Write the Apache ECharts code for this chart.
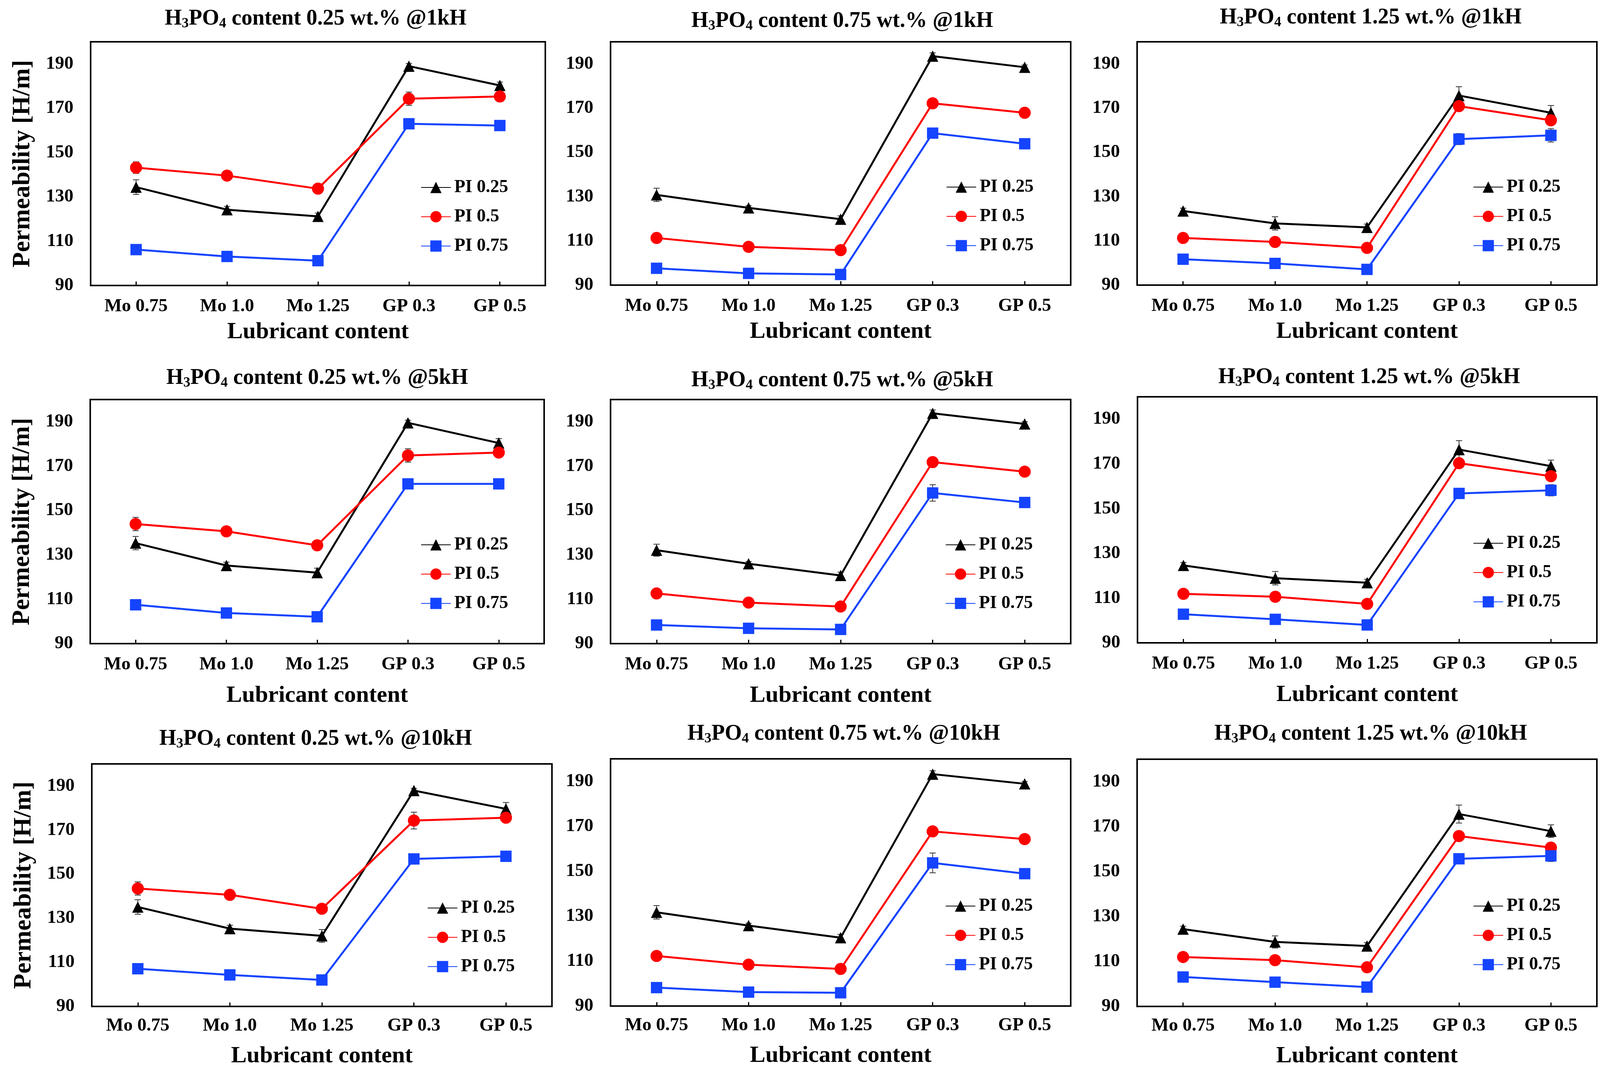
<!DOCTYPE html>
<html>
<head>
<meta charset="utf-8">
<script src="https://cdn.jsdelivr.net/npm/echarts@6/dist/echarts.min.js"></script>
<style>
html,body{margin:0;padding:0;background:#ffffff;}
#chart{width:4111px;height:2750px;}
</style>
</head>
<body>
<div id="chart"></div>
<script>
// ---------------- data ----------------
const categories = ['Mo 0.75', 'Mo 1.0', 'Mo 1.25', 'GP 0.3', 'GP 0.5'];
const seriesNames = ['PI 0.25', 'PI 0.5', 'PI 0.75'];
const acidContents = ['0.25', '0.75', '1.25'];
const frequencies = ['1kH', '5kH', '10kH'];
const yTickMin = 90, yTickMax = 200, yTickStep = 20;

// H3PO4 0.25 wt.% @1kH
const v025_1k_PI025 = [134.4, 124.2, 121.2, 189.0, 180.3];
const v025_1k_PI05  = [143.2, 139.6, 133.7, 174.3, 175.3];
const v025_1k_PI075 = [106.2, 103.1, 101.2, 163.0, 162.2];
const e025_1k_PI025 = [3.3, 1.5, 1.5, 1.2, 1.5];
const e025_1k_PI05  = [2.6, 1.0, 1.0, 3.0, 1.0];
const e025_1k_PI075 = [1.0, 1.0, 1.0, 1.0, 1.0];
// H3PO4 0.75 wt.% @1kH
const v075_1k_PI025 = [130.8, 124.9, 119.8, 193.5, 188.5];
const v075_1k_PI05  = [111.3, 107.3, 105.8, 172.2, 167.9];
const v075_1k_PI075 = [97.6, 95.3, 94.8, 158.7, 153.9];
const e075_1k_PI025 = [3.0, 1.0, 1.5, 1.5, 1.0];
const e075_1k_PI05  = [1.0, 1.0, 1.0, 1.0, 1.0];
const e075_1k_PI075 = [1.0, 1.0, 1.0, 2.0, 1.0];
// H3PO4 1.25 wt.% @1kH
const v125_1k_PI025 = [123.5, 117.9, 116.1, 175.7, 167.9];
const v125_1k_PI05  = [111.3, 109.5, 106.8, 170.9, 164.5];
const v125_1k_PI075 = [101.7, 99.8, 97.1, 156.0, 157.7];
const e125_1k_PI025 = [1.3, 3.0, 1.5, 4.0, 3.3];
const e125_1k_PI05  = [1.0, 1.0, 1.0, 1.0, 1.0];
const e125_1k_PI075 = [1.0, 1.0, 1.0, 2.5, 3.0];
// H3PO4 0.25 wt.% @5kH
const v025_5k_PI025 = [135.3, 125.2, 122.0, 189.5, 180.4];
const v025_5k_PI05  = [143.9, 140.6, 134.3, 174.8, 176.1];
const v025_5k_PI075 = [107.5, 103.8, 102.1, 162.0, 162.0];
const e025_5k_PI025 = [3.0, 1.5, 2.0, 1.2, 2.0];
const e025_5k_PI05  = [3.0, 1.0, 1.0, 3.0, 1.0];
const e025_5k_PI075 = [1.0, 1.0, 1.0, 1.0, 1.0];
// H3PO4 0.75 wt.% @5kH
const v075_5k_PI025 = [132.1, 126.0, 120.7, 193.8, 189.0];
const v075_5k_PI05  = [112.6, 108.5, 106.7, 171.8, 167.5];
const v075_5k_PI075 = [98.4, 96.9, 96.4, 157.9, 153.6];
const e075_5k_PI025 = [2.7, 1.0, 1.5, 1.5, 1.0];
const e075_5k_PI05  = [1.0, 1.0, 1.0, 1.0, 1.0];
const e075_5k_PI075 = [1.0, 1.0, 1.0, 3.7, 1.0];
// H3PO4 1.25 wt.% @5kH
const v125_5k_PI025 = [124.6, 118.9, 116.9, 176.4, 169.0];
const v125_5k_PI05  = [111.9, 110.6, 107.4, 170.3, 164.5];
const v125_5k_PI075 = [102.8, 100.5, 98.0, 156.8, 158.2];
const e125_5k_PI025 = [1.3, 3.0, 1.5, 4.0, 2.7];
const e125_5k_PI05  = [1.0, 1.0, 1.0, 1.0, 2.0];
const e125_5k_PI075 = [1.0, 1.0, 1.0, 1.0, 2.5];
// H3PO4 0.25 wt.% @10kH
const v025_10k_PI025 = [135.1, 125.3, 122.0, 187.9, 179.6];
const v025_10k_PI05  = [143.5, 140.6, 134.3, 174.3, 175.6];
const v025_10k_PI075 = [107.1, 104.3, 102.0, 156.9, 158.1];
const e025_10k_PI025 = [3.3, 1.5, 2.9, 1.0, 2.9];
const e025_10k_PI05  = [3.0, 1.0, 1.0, 3.8, 1.0];
const e025_10k_PI075 = [1.0, 1.0, 1.0, 1.0, 1.0];
// H3PO4 0.75 wt.% @10kH
const v075_10k_PI025 = [131.7, 125.8, 120.4, 193.2, 188.9];
const v075_10k_PI05  = [112.3, 108.4, 106.5, 167.7, 164.3];
const v075_10k_PI075 = [98.2, 96.2, 95.9, 153.7, 148.9];
const e075_10k_PI025 = [3.0, 1.0, 1.5, 1.5, 1.0];
const e075_10k_PI05  = [1.0, 1.0, 1.0, 1.0, 1.0];
const e075_10k_PI075 = [1.0, 1.0, 1.0, 4.4, 1.0];
// H3PO4 1.25 wt.% @10kH
const v125_10k_PI025 = [124.4, 118.7, 116.9, 175.6, 168.0];
const v125_10k_PI05  = [112.0, 110.6, 107.4, 165.8, 160.7];
const v125_10k_PI075 = [103.1, 100.8, 98.6, 155.7, 157.0];
const e125_10k_PI025 = [1.3, 2.7, 1.5, 4.0, 2.8];
const e125_10k_PI05  = [1.0, 1.0, 1.0, 1.0, 1.0];
const e125_10k_PI075 = [1.0, 1.0, 1.0, 2.0, 2.5];

// panels in reading order (rows: frequency, columns: acid content)
const panelValues = [
  [v025_1k_PI025, v025_1k_PI05, v025_1k_PI075],
  [v075_1k_PI025, v075_1k_PI05, v075_1k_PI075],
  [v125_1k_PI025, v125_1k_PI05, v125_1k_PI075],
  [v025_5k_PI025, v025_5k_PI05, v025_5k_PI075],
  [v075_5k_PI025, v075_5k_PI05, v075_5k_PI075],
  [v125_5k_PI025, v125_5k_PI05, v125_5k_PI075],
  [v025_10k_PI025, v025_10k_PI05, v025_10k_PI075],
  [v075_10k_PI025, v075_10k_PI05, v075_10k_PI075],
  [v125_10k_PI025, v125_10k_PI05, v125_10k_PI075]
];
const panelErrors = [
  [e025_1k_PI025, e025_1k_PI05, e025_1k_PI075],
  [e075_1k_PI025, e075_1k_PI05, e075_1k_PI075],
  [e125_1k_PI025, e125_1k_PI05, e125_1k_PI075],
  [e025_5k_PI025, e025_5k_PI05, e025_5k_PI075],
  [e075_5k_PI025, e075_5k_PI05, e075_5k_PI075],
  [e125_5k_PI025, e125_5k_PI05, e125_5k_PI075],
  [e025_10k_PI025, e025_10k_PI05, e025_10k_PI075],
  [e075_10k_PI025, e075_10k_PI05, e075_10k_PI075],
  [e125_10k_PI025, e125_10k_PI05, e125_10k_PI075]
];

// ---------------- layout & style ----------------
const FONT = '"Liberation Serif", "Times New Roman", serif';
const colors = ['#000000', '#ff0000', '#1544ff'];
const symbols = ['triangle', 'circle', 'rect'];
const symbolSizes = [29, 31, 29];

// [left, top, right, bottom] of each plot box, pixels
const boxes = [
  [232, 107, 1396, 731], [1563, 107, 2741, 730], [2911, 107, 4088, 730],
  [231, 1023, 1393, 1648], [1563, 1023, 2741, 1648], [2912, 1016, 4088, 1646],
  [235, 1956, 1413, 2577], [1563, 1943, 2741, 2576], [2911, 1944, 4088, 2577]
];
const titleCX = [808, 2156, 3509, 812, 2156, 3505, 808, 2160, 3509];
const titleCY = [49, 55, 46, 969, 975, 967, 1893, 1880, 1880];
const legendX = [1077, 2422, 3771, 1077, 2420, 3771, 1094, 2420, 3771];
const legendY = [480, 479, 479, 1395, 1395, 1391, 2325, 2320, 2320];
const xNameGap = [89, 89, 89, 103, 103, 103, 97, 97, 97];
const xLabelMargin = [30, 30, 30, 30, 30, 30, 26, 26, 26];

const option = {
  backgroundColor: '#ffffff',
  animation: false,
  title: [], grid: [], xAxis: [], yAxis: [], legend: [], series: []
};

panelValues.forEach((vals, p) => {
  const row = Math.floor(p / 3), col = p % 3;
  const b = boxes[p];
  option.title.push({
    text: '{n|H}{s|3}{n|PO}{s|4}{n| content ' + acidContents[col] + ' wt.% @' + frequencies[row] + '}',
    left: titleCX[p], top: titleCY[p] - 30, textAlign: 'center', padding: 0,
    textStyle: {
      rich: {
        n: { fontSize: 56, fontWeight: 'bold', fontFamily: FONT, color: '#000', lineHeight: 60 },
        s: { fontSize: 36, fontWeight: 'bold', fontFamily: FONT, color: '#000', lineHeight: 26, verticalAlign: 'bottom' }
      }
    }
  });
  option.grid.push({
    left: b[0], top: b[1], width: b[2] - b[0], height: b[3] - b[1],
    show: true, borderColor: '#000', borderWidth: 4, backgroundColor: 'transparent',
    containLabel: false, outerBoundsMode: 'none'
  });
  option.xAxis.push({
    type: 'category', gridIndex: p, data: categories, boundaryGap: true,
    name: 'Lubricant content', nameLocation: 'middle', nameGap: xNameGap[p],
    nameTextStyle: { fontFamily: FONT, fontWeight: 'bold', fontSize: 60, color: '#000' },
    axisLine: { lineStyle: { color: '#000', width: 4 } },
    axisTick: { show: true, inside: true, length: 10, alignWithLabel: true, lineStyle: { color: '#000', width: 3 } },
    axisLabel: { fontFamily: FONT, fontWeight: 'bold', fontSize: 47, color: '#000', margin: xLabelMargin[p], interval: 0 },
    splitLine: { show: false }
  });
  option.yAxis.push({
    type: 'value', gridIndex: p, min: yTickMin, max: yTickMax, interval: yTickStep,
    name: col === 0 ? 'Permeability [H/m]' : '', nameLocation: 'middle', nameGap: 142,
    nameTextStyle: { fontFamily: FONT, fontWeight: 'bold', fontSize: 64, color: '#000' },
    axisLine: { show: true, lineStyle: { color: '#000', width: 4 } },
    axisTick: { show: false },
    axisLabel: { fontFamily: FONT, fontWeight: 'bold', fontSize: 47, color: '#000', margin: 44, showMaxLabel: false },
    splitLine: { show: false }
  });
  option.legend.push({
    data: seriesNames, orient: 'vertical', left: legendX[p], top: legendY[p] - 23,
    itemWidth: 76, itemHeight: 36, itemGap: 29, padding: 0,
    textStyle: { fontFamily: FONT, fontWeight: 'bold', fontSize: 46, color: '#000', padding: [0, 0, 0, 4] },
    selectedMode: false
  });
  vals.forEach((arr, s) => {
    const errs = panelErrors[p][s];
    option.series.push({
      type: 'custom', xAxisIndex: p, yAxisIndex: p, z: 1, silent: true,
      data: arr.map((v, i) => [i, v, errs[i]]),
      renderItem: function (params, api) {
        const x = api.value(0), y = api.value(1), e = api.value(2);
        const top = api.coord([x, y + e]);
        const bot = api.coord([x, y - e]);
        const hw = 8;
        const st = { stroke: '#333', lineWidth: 2 };
        return {
          type: 'group', children: [
            { type: 'line', shape: { x1: top[0], y1: top[1], x2: bot[0], y2: bot[1] }, style: st },
            { type: 'line', shape: { x1: top[0] - hw, y1: top[1], x2: top[0] + hw, y2: top[1] }, style: st },
            { type: 'line', shape: { x1: bot[0] - hw, y1: bot[1], x2: bot[0] + hw, y2: bot[1] }, style: st }
          ]
        };
      }
    });
    option.series.push({
      type: 'line', name: seriesNames[s], xAxisIndex: p, yAxisIndex: p, z: 3,
      data: arr, symbol: symbols[s], symbolSize: symbolSizes[s], showSymbol: true,
      lineStyle: { color: colors[s], width: 5 },
      itemStyle: { color: colors[s], borderWidth: 0 },
      emphasis: { disabled: true }
    });
  });
});

const chart = echarts.init(document.getElementById('chart'), null, { renderer: 'canvas', width: 4111, height: 2750 });
chart.setOption(option);
</script>
</body>
</html>
